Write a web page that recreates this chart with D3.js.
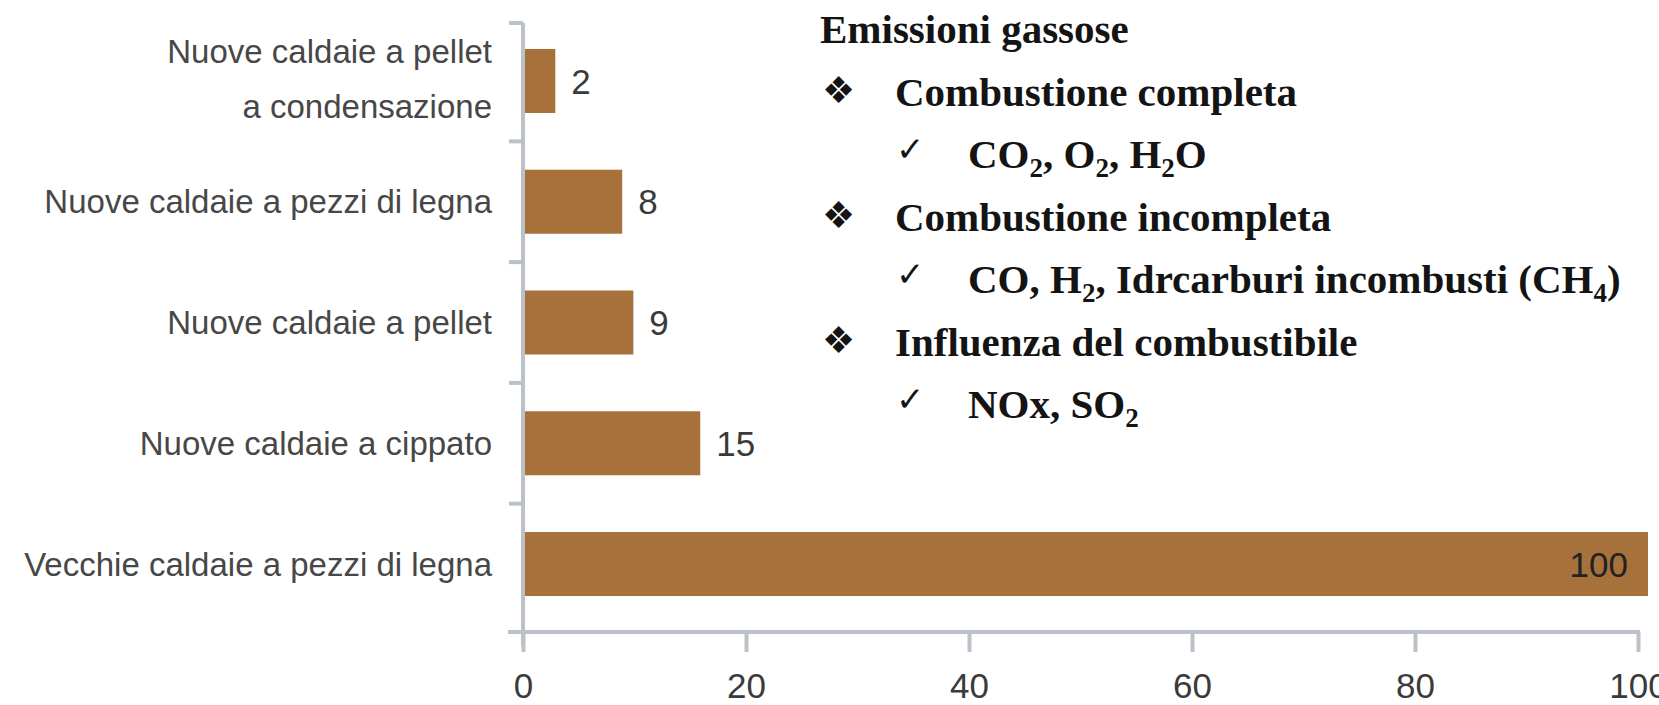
<!DOCTYPE html>
<html>
<head>
<meta charset="utf-8">
<script src="https://cdn.jsdelivr.net/npm/d3@7"></script>
<style>
  body { margin: 0; background: #fff; }
  svg { display: block; }
  .cat { font-family: "Liberation Sans", Arial, sans-serif; font-size: 33px; fill: #474747; }
  .val { font-family: "Liberation Sans", Arial, sans-serif; font-size: 35px; fill: #3a3a3a; }
  .tick text { font-family: "Liberation Sans", Arial, sans-serif; font-size: 35px; fill: #3a3a3a; }
  .notes { font-family: "Liberation Serif", "Times New Roman", serif; font-weight: bold; font-size: 41px; fill: #141414; }
  .mark { font-family: "DejaVu Sans", sans-serif; font-weight: normal; fill: #141414; }
</style>
</head>
<body>
<svg id="chart"></svg>
<script>
// data
var categories = [
  "Nuove caldaie a pellet\na condensazione",
  "Nuove caldaie a pezzi di legna",
  "Nuove caldaie a pellet",
  "Nuove caldaie a cippato",
  "Vecchie caldaie a pezzi di legna"
];
var values = [2, 8, 9, 15, 100];
var xTicks = [0, 20, 40, 60, 80, 100];

// text block on the right, "_x" = subscript x
var noteTitle = "Emissioni gassose";
var noteLevels = ["bullet", "check", "bullet", "check", "bullet", "check"];
var noteLines = [
  "Combustione completa",
  "CO_2, O_2, H_2O",
  "Combustione incompleta",
  "CO, H_2, Idrcarburi incombusti (CH_4)",
  "Influenza del combustibile",
  "NOx, SO_2"
];

(function() {
  var W = 1659, H = 705;
  var barColor = "#a6713a";
  var axisColor = "#bcc0c8";

  var svg = d3.select("#chart").attr("width", W).attr("height", H);

  var x = d3.scaleLinear().domain([0, 100]).range([523, 1638]);
  var y = d3.scaleBand().domain(categories).range([23, 622])
      .paddingInner(0.47).paddingOuter(0.215);
  var xAxisY = 632;
  var barExtra = 10; // bars in the source run a little past their value

  // bars
  svg.selectAll("rect.bar")
      .data(values)
      .enter().append("rect")
      .attr("class", "bar")
      .attr("x", x(0))
      .attr("y", function(d, i) { return y(categories[i]); })
      .attr("width", function(d) { return x(d) - x(0) + barExtra; })
      .attr("height", y.bandwidth())
      .style("fill", barColor);

  // value labels
  svg.selectAll("text.val")
      .data(values)
      .enter().append("text")
      .attr("class", "val")
      .attr("x", function(d) { return d >= 50 ? x(d) + barExtra - 20 : x(d) + barExtra + 16; })
      .attr("y", function(d, i) { return y(categories[i]) + y.bandwidth() / 2; })
      .attr("dy", "0.36em")
      .attr("text-anchor", function(d) { return d >= 50 ? "end" : "start"; })
      .style("fill", function(d) { return d >= 50 ? "#222" : null; })
      .text(function(d) { return d; });

  // x axis
  var xAxis = d3.axisBottom(x).tickValues(xTicks).tickSize(20).tickSizeOuter(0).tickPadding(21);
  var gx = svg.append("g")
      .attr("transform", "translate(0," + xAxisY + ")")
      .call(xAxis);
  gx.select(".domain").remove();
  gx.selectAll(".tick line").attr("stroke", axisColor).attr("stroke-width", 4);
  svg.append("line")
      .attr("x1", 508).attr("x2", x(100) + 2)
      .attr("y1", xAxisY).attr("y2", xAxisY)
      .attr("stroke", axisColor).attr("stroke-width", 4);

  // y axis: line plus ticks on the band edges
  var gap = y.step() - y.bandwidth();
  var edges = [y.range()[0]].concat(categories.slice(1).map(function(c) { return y(c) - gap / 2; }));
  svg.append("line")
      .attr("x1", x(0)).attr("x2", x(0))
      .attr("y1", y.range()[0]).attr("y2", xAxisY + 15)
      .attr("stroke", axisColor).attr("stroke-width", 4);
  svg.selectAll("line.ytick")
      .data(edges)
      .enter().append("line")
      .attr("class", "ytick")
      .attr("x1", x(0) - 14).attr("x2", x(0))
      .attr("y1", function(d) { return d; }).attr("y2", function(d) { return d; })
      .attr("stroke", axisColor).attr("stroke-width", 4);

  // category labels
  var labels = svg.selectAll("text.cat")
      .data(categories)
      .enter().append("text")
      .attr("class", "cat")
      .attr("text-anchor", "end")
      .attr("x", 492)
      .attr("y", function(d) { return y(d) + y.bandwidth() / 2; });
  labels.each(function(d) {
    var lines = d.split("\n");
    var t = d3.select(this);
    lines.forEach(function(line, k) {
      var dy = lines.length == 1 ? 11.5 : (k == 0 ? -18 : 55);
      t.append("tspan").attr("x", 492).attr("dy", dy).text(line);
    });
  });

  // right text block
  var notes = svg.append("g").attr("class", "notes");
  var lineGap = 62.5, noteTop = 43, subShift = 9;

  function addRich(textSel, str) {
    var parts = str.split(/(_.)/).filter(function(p) { return p; });
    var shifted = 0;
    parts.forEach(function(p) {
      var span;
      if (p[0] == "_") {
        span = textSel.append("tspan").style("font-size", "27px").text(p[1]);
        span.attr("dy", subShift - shifted);
        shifted = subShift;
      } else {
        span = textSel.append("tspan").text(p);
        if (shifted) span.attr("dy", -shifted);
        shifted = 0;
      }
    });
  }

  notes.append("text").attr("x", 820).attr("y", noteTop).text(noteTitle);

  noteLines.forEach(function(line, i) {
    var by = noteTop + lineGap * (i + 1);
    var isBullet = noteLevels[i] == "bullet";
    notes.append("text")
        .attr("class", "mark")
        .attr("x", isBullet ? 822 : 896)
        .attr("y", by - (isBullet ? 3 : 7))
        .style("font-size", isBullet ? "37px" : "34px")
        .text(isBullet ? "\u2756" : "\u2713");
    var t = notes.append("text")
        .attr("x", isBullet ? 895 : 968)
        .attr("y", by);
    addRich(t, line);
  });
})();
</script>
</body>
</html>
